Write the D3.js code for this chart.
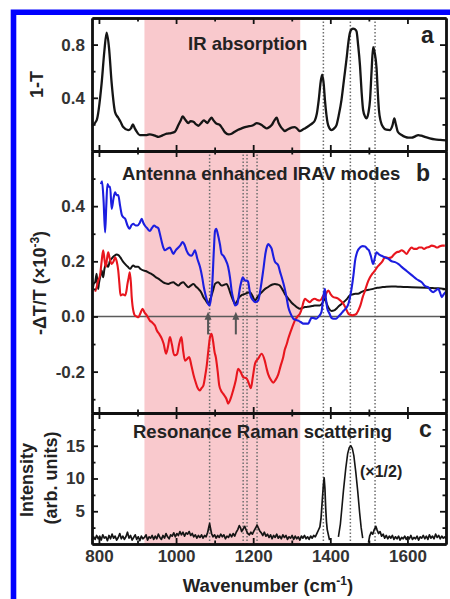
<!DOCTYPE html>
<html>
<head>
<meta charset="utf-8">
<script src="https://cdn.jsdelivr.net/npm/d3@7"></script>
<style>
  body { margin: 0; background: #fff; }
  text { font-family: "Liberation Sans", Arial, sans-serif; font-weight: bold; fill: #222; }
  .tick text { font-size: 17px; font-family: "Liberation Sans", Arial, sans-serif; font-weight: bold; fill: #333; }
  .tick line { stroke: #111; stroke-width: 1.8; }
  .domain { stroke: #111; stroke-width: 2.4; }
</style>
</head>
<body>
<script>
'use strict';

// ---- data (wavenumber in cm-1, value) ----
const pinkBand = [918, 1322];
const linesA = [1382, 1452, 1516];
const linesBC = [1087, 1174, 1184, 1210, 1382, 1452, 1516];
const arrowsB = [1083, 1155];

const xMajor = [800, 1000, 1200, 1400, 1600];
const xMinor = [900, 1100, 1300, 1500];
const yaMajor = [0.4, 0.8], yaMinor = [0.2, 0.6];
const ybMajor = [-0.2, 0, 0.2, 0.4], ybMinor = [-0.3, -0.1, 0.1, 0.3, 0.5];
const ycMajor = [5, 10, 15], ycMinor = [2.5, 7.5, 12.5, 17.5];

const irAbs = [[782,0.19],[794,0.23],[807,0.51],[814,0.75],[820,0.89],[826,0.78],[833,0.51],[842,0.29],[850,0.25],[856,0.22],[863,0.18],[876,0.157],[883,0.17],[888,0.2],[893,0.17],[898,0.145],[906,0.12],[915,0.12],[924,0.12],[932,0.125],[941,0.12],[948,0.112],[954,0.106],[965,0.118],[976,0.13],[987,0.135],[997,0.145],[1006,0.195],[1012,0.23],[1017,0.26],[1024,0.235],[1032,0.21],[1038,0.225],[1045,0.22],[1052,0.2],[1058,0.19],[1065,0.21],[1072,0.23],[1077,0.22],[1081,0.21],[1087,0.235],[1092,0.25],[1097,0.23],[1103,0.21],[1114,0.195],[1120,0.17],[1127,0.14],[1136,0.125],[1144,0.13],[1152,0.145],[1161,0.16],[1170,0.17],[1179,0.18],[1187,0.185],[1196,0.19],[1203,0.2],[1209,0.21],[1216,0.205],[1222,0.195],[1229,0.18],[1235,0.17],[1242,0.18],[1248,0.195],[1255,0.23],[1261,0.25],[1266,0.21],[1272,0.18],[1278,0.16],[1282,0.15],[1288,0.16],[1295,0.17],[1302,0.178],[1308,0.18],[1315,0.165],[1321,0.15],[1328,0.16],[1334,0.17],[1340,0.18],[1347,0.195],[1354,0.21],[1360,0.23],[1365,0.28],[1370,0.385],[1375,0.52],[1379,0.575],[1383,0.5],[1386,0.385],[1390,0.27],[1393,0.21],[1398,0.17],[1403,0.157],[1410,0.17],[1416,0.195],[1422,0.27],[1429,0.385],[1436,0.55],[1442,0.69],[1447,0.82],[1451,0.89],[1455,0.915],[1459,0.92],[1464,0.915],[1468,0.9],[1472,0.8],[1477,0.64],[1481,0.45],[1485,0.31],[1490,0.26],[1494,0.245],[1499,0.29],[1503,0.385],[1507,0.6],[1511,0.78],[1515,0.74],[1520,0.62],[1523,0.45],[1526,0.31],[1531,0.22],[1537,0.18],[1545,0.16],[1555,0.157],[1561,0.19],[1566,0.245],[1570,0.2],[1575,0.145],[1585,0.12],[1594,0.106],[1603,0.1],[1611,0.1],[1620,0.11],[1628,0.12],[1636,0.115],[1645,0.106],[1658,0.095],[1671,0.087],[1685,0.083],[1700,0.08]];

const blueB = [[805,0.48],[808,0.49],[812,0.42],[816,0.305],[819,0.4],[822,0.48],[826,0.47],[829,0.47],[833,0.39],[838,0.43],[842,0.45],[846,0.44],[850,0.44],[855,0.4],[859,0.37],[863,0.36],[868,0.354],[874,0.33],[879,0.318],[884,0.33],[889,0.336],[895,0.33],[900,0.33],[906,0.34],[911,0.354],[915,0.34],[919,0.33],[925,0.32],[932,0.31],[937,0.32],[943,0.33],[948,0.325],[954,0.32],[958,0.3],[963,0.27],[967,0.25],[971,0.24],[977,0.245],[984,0.25],[988,0.24],[993,0.227],[999,0.24],[1006,0.25],[1012,0.26],[1017,0.27],[1022,0.26],[1027,0.24],[1033,0.225],[1040,0.22],[1045,0.23],[1049,0.24],[1055,0.21],[1062,0.18],[1068,0.14],[1072,0.106],[1077,0.075],[1083,0.046],[1087,0.04],[1091,0.07],[1094,0.12],[1098,0.24],[1101,0.31],[1104,0.318],[1108,0.3],[1114,0.26],[1118,0.227],[1123,0.22],[1127,0.21],[1135,0.18],[1140,0.14],[1144,0.094],[1149,0.06],[1153,0.04],[1159,0.046],[1163,0.08],[1166,0.106],[1170,0.13],[1173,0.142],[1179,0.13],[1184,0.13],[1187,0.125],[1190,0.1],[1193,0.076],[1199,0.06],[1205,0.052],[1213,0.058],[1219,0.1],[1226,0.167],[1232,0.23],[1236,0.255],[1239,0.263],[1244,0.255],[1248,0.245],[1252,0.22],[1256,0.2],[1265,0.185],[1270,0.16],[1274,0.142],[1282,0.1],[1287,0.065],[1291,0.034],[1297,0.01],[1304,-0.008],[1310,-0.012],[1317,-0.015],[1323,-0.02],[1330,-0.026],[1337,-0.026],[1343,-0.026],[1347,-0.015],[1351,-0.005],[1357,-0.006],[1364,-0.008],[1370,0],[1377,0.016],[1381,0.06],[1384,0.09],[1386,0.1],[1389,0.06],[1392,0.03],[1398,0.01],[1403,-0.005],[1408,-0.008],[1415,-0.008],[1421,0.0],[1428,0.01],[1434,0.02],[1441,0.03],[1447,0.046],[1451,0.07],[1455,0.1],[1460,0.15],[1464,0.2],[1470,0.235],[1477,0.25],[1484,0.255],[1490,0.254],[1496,0.245],[1500,0.24],[1505,0.22],[1511,0.19],[1515,0.21],[1520,0.233],[1526,0.225],[1533,0.22],[1541,0.215],[1550,0.21],[1559,0.2],[1568,0.197],[1577,0.19],[1585,0.18],[1598,0.165],[1611,0.15],[1624,0.135],[1637,0.124],[1646,0.11],[1654,0.106],[1660,0.095],[1667,0.088],[1674,0.095],[1680,0.1],[1685,0.085],[1689,0.07],[1694,0.08],[1700,0.09]];

const redB = [[790,0.09],[794,0.106],[798,0.13],[803,0.15],[807,0.2],[811,0.24],[815,0.2],[818,0.18],[821,0.21],[824,0.233],[828,0.21],[833,0.19],[838,0.2],[842,0.215],[846,0.2],[850,0.167],[853,0.12],[856,0.076],[862,0.08],[868,0.076],[871,0.09],[874,0.118],[877,0.14],[880,0.16],[883,0.12],[885,0.07],[887,0.04],[890,0.015],[893,0.004],[898,0],[902,-0.003],[907,0.01],[913,0.028],[918,0.015],[924,0.004],[928,-0.005],[932,-0.015],[937,-0.02],[941,-0.026],[946,-0.035],[950,-0.05],[957,-0.065],[963,-0.08],[968,-0.1],[974,-0.135],[979,-0.11],[984,-0.075],[989,-0.1],[995,-0.14],[999,-0.14],[1003,-0.135],[1008,-0.1],[1014,-0.075],[1018,-0.12],[1023,-0.16],[1028,-0.155],[1034,-0.147],[1040,-0.18],[1045,-0.21],[1050,-0.235],[1055,-0.256],[1062,-0.268],[1066,-0.26],[1071,-0.25],[1075,-0.22],[1079,-0.184],[1084,-0.12],[1088,-0.075],[1092,-0.063],[1096,-0.09],[1100,-0.13],[1103,-0.147],[1108,-0.2],[1112,-0.25],[1117,-0.27],[1122,-0.28],[1127,-0.29],[1131,-0.3],[1135,-0.316],[1141,-0.3],[1148,-0.268],[1155,-0.23],[1161,-0.19],[1167,-0.2],[1174,-0.22],[1183,-0.225],[1188,-0.24],[1194,-0.26],[1199,-0.22],[1205,-0.17],[1213,-0.153],[1222,-0.135],[1230,-0.16],[1235,-0.19],[1239,-0.21],[1246,-0.23],[1252,-0.24],[1258,-0.23],[1265,-0.21],[1271,-0.18],[1278,-0.147],[1282,-0.12],[1287,-0.1],[1291,-0.08],[1295,-0.063],[1301,-0.04],[1308,-0.015],[1315,0],[1321,0.01],[1326,0.028],[1330,0.05],[1334,0.064],[1340,0.058],[1347,0.052],[1353,0.06],[1360,0.064],[1366,0.06],[1373,0.058],[1378,0.065],[1382,0.076],[1386,0.07],[1390,0.085],[1395,0.094],[1401,0.08],[1408,0.07],[1414,0.068],[1421,0.064],[1428,0.055],[1434,0.046],[1440,0.03],[1447,0.01],[1452,0.006],[1457,0.004],[1463,0.006],[1468,0.01],[1472,0.02],[1478,0.04],[1484,0.07],[1490,0.094],[1496,0.12],[1503,0.142],[1509,0.155],[1516,0.167],[1522,0.18],[1529,0.19],[1535,0.2],[1542,0.215],[1550,0.212],[1559,0.215],[1565,0.225],[1572,0.233],[1578,0.235],[1585,0.24],[1591,0.235],[1598,0.227],[1604,0.24],[1611,0.25],[1617,0.245],[1624,0.245],[1630,0.25],[1637,0.25],[1643,0.245],[1650,0.25],[1656,0.252],[1663,0.257],[1670,0.255],[1677,0.25],[1684,0.255],[1690,0.257],[1697,0.257]];

const blackB = [[784,0.1],[787,0.12],[790,0.124],[792,0.14],[794,0.155],[796,0.12],[798,0.1],[800,0.12],[803,0.142],[807,0.167],[811,0.142],[814,0.17],[818,0.19],[824,0.18],[828,0.2],[833,0.21],[840,0.22],[846,0.225],[851,0.222],[855,0.215],[862,0.2],[868,0.19],[875,0.18],[881,0.173],[885,0.18],[889,0.185],[895,0.18],[902,0.18],[908,0.172],[915,0.167],[921,0.165],[928,0.16],[935,0.155],[941,0.15],[948,0.142],[954,0.137],[961,0.13],[967,0.124],[973,0.12],[980,0.118],[986,0.122],[993,0.124],[999,0.118],[1006,0.112],[1012,0.12],[1019,0.124],[1025,0.115],[1032,0.106],[1038,0.112],[1045,0.118],[1052,0.108],[1058,0.1],[1065,0.088],[1071,0.07],[1077,0.058],[1083,0.046],[1088,0.06],[1092,0.076],[1097,0.1],[1101,0.118],[1109,0.124],[1118,0.112],[1125,0.115],[1131,0.118],[1136,0.105],[1140,0.088],[1146,0.065],[1153,0.046],[1158,0.055],[1164,0.07],[1171,0.078],[1179,0.082],[1185,0.086],[1192,0.088],[1198,0.075],[1205,0.058],[1211,0.07],[1218,0.082],[1225,0.092],[1231,0.1],[1238,0.106],[1244,0.112],[1250,0.116],[1256,0.118],[1263,0.116],[1269,0.112],[1275,0.1],[1282,0.082],[1288,0.07],[1295,0.058],[1301,0.048],[1308,0.04],[1314,0.033],[1321,0.028],[1328,0.031],[1334,0.034],[1341,0.035],[1347,0.036],[1354,0.038],[1360,0.04],[1367,0.04],[1373,0.04],[1380,0.05],[1386,0.064],[1391,0.045],[1396,0.03],[1403,0.02],[1410,0.022],[1417,0.03],[1424,0.04],[1430,0.046],[1437,0.055],[1444,0.065],[1450,0.076],[1458,0.08],[1465,0.082],[1472,0.082],[1480,0.088],[1490,0.094],[1500,0.097],[1511,0.1],[1522,0.104],[1533,0.106],[1545,0.108],[1559,0.109],[1575,0.108],[1590,0.107],[1611,0.106],[1630,0.105],[1650,0.104],[1665,0.103],[1680,0.102],[1697,0.1]];

const ramanLeft = [[782,0.6],[786,1.1],[790,0.7],[794,1.3],[798,0.8],[802,1.2],[806,0.6],[810,1.4],[814,0.9],[818,1.1],[822,0.5],[826,1.3],[830,0.8],[834,1.5],[838,0.9],[842,1.2],[846,0.6],[850,1.0],[854,1.6],[858,0.8],[862,1.2],[866,0.7],[870,1.1],[874,1.8],[878,0.9],[882,1.3],[886,0.6],[890,1.0],[894,1.4],[898,0.7],[902,1.1],[906,0.5],[910,1.2],[914,0.8],[918,1.0],[922,1.4],[926,0.6],[930,1.1],[934,0.9],[938,1.3],[942,0.7],[946,1.2],[950,0.8],[954,1.5],[958,1.0],[962,0.7],[966,1.3],[970,0.9],[974,1.6],[978,1.1],[982,0.8],[986,1.4],[990,1.2],[994,1.7],[998,1.1],[1002,1.6],[1006,1.3],[1010,1.9],[1014,1.4],[1018,1.8],[1022,1.2],[1026,1.7],[1030,1.5],[1034,1.9],[1038,1.3],[1042,1.6],[1046,1.1],[1050,1.4],[1054,0.9],[1058,1.3],[1062,1.0],[1066,1.4],[1070,0.9],[1074,1.3],[1078,1.1],[1082,1.8],[1085,2.6],[1087,3.1],[1089,2.5],[1092,1.6],[1096,1.1],[1100,1.4],[1104,0.9],[1108,1.3],[1112,1.0],[1116,1.5],[1120,1.1],[1124,1.4],[1128,0.8],[1132,1.2],[1136,1.0],[1140,1.5],[1144,1.1],[1148,1.6],[1152,1.2],[1156,1.8],[1160,2.2],[1164,2.8],[1167,2.5],[1170,1.9],[1174,2.3],[1178,2.7],[1182,2.1],[1186,1.6],[1190,1.4],[1194,1.8],[1198,1.5],[1202,2.0],[1206,2.4],[1210,2.9],[1213,2.5],[1217,2.0],[1221,1.7],[1225,1.3],[1229,1.8],[1233,1.2],[1237,1.5],[1241,1.0],[1245,1.4],[1249,0.8],[1253,1.3],[1257,1.0],[1261,1.5],[1265,0.9],[1269,1.2],[1273,0.8],[1277,1.4],[1281,1.0],[1285,1.3],[1289,0.7],[1293,1.1],[1297,0.9],[1301,1.3],[1305,0.7],[1309,1.2],[1313,0.8],[1317,1.1],[1321,0.6],[1325,1.2],[1329,0.9],[1333,1.3],[1337,0.8],[1341,1.1],[1345,0.7],[1349,1.2],[1353,0.9],[1357,1.3],[1361,1.1],[1365,1.6],[1369,2.1],[1373,2.6],[1376,4.0],[1379,6.5],[1382,9.0],[1384,10.1],[1386,8.5],[1388,5.5],[1390,3.4],[1392,2.2],[1395,1.4],[1398,0.6]];
const ramanHalf = [[1421,1.1],[1426,3.0],[1430,5.5],[1434,8.1],[1440,11.5],[1445,13.8],[1449,14.7],[1453,15.0],[1457,14.6],[1461,13.5],[1466,11.0],[1471,8.1],[1476,4.8],[1480,2.5],[1484,0.9]];
const ramanRight = [[1499,0.2],[1502,1.2],[1506,1.8],[1510,1.5],[1514,2.2],[1518,2.7],[1521,2.2],[1525,1.6],[1529,1.9],[1533,1.2],[1537,1.5],[1541,0.9],[1545,1.3],[1549,0.8],[1553,1.2],[1557,0.9],[1561,1.3],[1565,0.7],[1569,1.1],[1573,0.8],[1577,1.2],[1581,0.6],[1585,1.0],[1589,0.8],[1593,1.2],[1597,0.7],[1601,1.1],[1605,0.8],[1609,1.3],[1613,0.7],[1617,1.0],[1621,0.8],[1625,1.2],[1629,0.6],[1633,1.1],[1637,0.9],[1641,1.3],[1645,0.8],[1649,1.2],[1653,0.7],[1657,1.4],[1661,0.9],[1665,1.2],[1669,0.8],[1673,1.5],[1677,1.0],[1681,1.3],[1685,0.8],[1689,1.2],[1693,0.9],[1697,1.1],[1700,0.8]];

// ---- layout ----
const W = 450, H = 599;
const left = 92, right = 446;

const svg = d3.select("body").append("svg")
    .attr("width", W)
    .attr("height", H);

const x = d3.scaleLinear().domain([782, 1700]).range([left, right]);
const ya = d3.scaleLinear().domain([0, 1.0]).range([151, 18]);
const yb = d3.scaleLinear().domain([-0.35, 0.6]).range([413, 151]);
const yc = d3.scaleLinear().domain([0, 20]).range([544, 413]);

// blue frame
svg.append("path")
    .attr("d", "M13.5,599V12.2H450")
    .attr("fill", "none")
    .attr("stroke", "#0000ff")
    .attr("stroke-width", 5.6);

// pink band
svg.append("rect")
    .attr("x", x(pinkBand[0]))
    .attr("width", x(pinkBand[1]) - x(pinkBand[0]))
    .attr("y", ya.range()[1])
    .attr("height", yc.range()[0] - ya.range()[1])
    .attr("fill", "#f9c9cd");

// dotted guides
function guides(vals, y0, y1) {
    svg.append("g").selectAll("line")
        .data(vals)
        .enter().append("line")
        .attr("x1", d => x(d)).attr("x2", d => x(d))
        .attr("y1", y0).attr("y2", y1)
        .attr("stroke", "#6e6e6e")
        .attr("stroke-width", 1.5)
        .attr("stroke-dasharray", "1.5,2");
}
guides(linesA, ya.range()[1], ya.range()[0]);
guides(linesBC, yb.range()[1], yc.range()[0]);

// zero line in b
svg.append("line")
    .attr("x1", left).attr("x2", right)
    .attr("y1", yb(0)).attr("y2", yb(0))
    .attr("stroke", "#5a5a5a")
    .attr("stroke-width", 1.6);

function drawLine(data, y, color, w, curve) {
    svg.append("path")
        .datum(data)
        .attr("fill", "none")
        .attr("stroke", color)
        .attr("stroke-width", w)
        .attr("stroke-linejoin", "round")
        .attr("d", d3.line().x(d => x(d[0])).y(d => y(d[1])).curve(curve || d3.curveLinear));
}

drawLine(irAbs, ya, "#151515", 2.3, d3.curveMonotoneX);
drawLine(blackB, yb, "#151515", 2.0, d3.curveMonotoneX);
drawLine(redB, yb, "#e8161e", 2.1, d3.curveMonotoneX);
drawLine(blueB, yb, "#1c1ee0", 2.1, d3.curveMonotoneX);
drawLine(ramanLeft, yc, "#151515", 1.7);
drawLine(ramanHalf, yc, "#151515", 1.6);
drawLine(ramanRight, yc, "#151515", 1.7);

// arrows in b
const arr = svg.append("g").attr("fill", "#555").attr("stroke", "#555");
arrowsB.forEach(function(w) {
    const ax = x(w);
    arr.append("line")
        .attr("x1", ax).attr("x2", ax)
        .attr("y1", yb(-0.065)).attr("y2", yb(-0.005))
        .attr("stroke-width", 2);
    arr.append("path")
        .attr("stroke", "none")
        .attr("d", `M${ax},${yb(0.017)}L${ax - 3.5},${yb(-0.012)}L${ax + 3.5},${yb(-0.012)}Z`);
});

// axes
const fmt1 = d => d.toFixed(1);
function frame(y, yMaj, yMin, yFmt, xLabels) {
    const [yBot, yTop] = y.range();
    const g = svg.append("g");
    const put = (axis, tx, ty) => g.append("g").attr("transform", `translate(${tx},${ty})`).call(axis);

    put(d3.axisLeft(y).tickValues(yMin).tickSizeInner(-3.5).tickSizeOuter(0).tickFormat(""), left, 0);
    put(d3.axisLeft(y).tickValues(yMaj).tickSizeInner(-6).tickSizeOuter(0).tickPadding(7).tickFormat(yFmt), left, 0);
    put(d3.axisRight(y).tickValues(yMin).tickSizeInner(-3.5).tickSizeOuter(0).tickFormat(""), right, 0);
    put(d3.axisRight(y).tickValues(yMaj).tickSizeInner(-6).tickSizeOuter(0).tickFormat(""), right, 0);

    put(d3.axisTop(x).tickValues(xMinor).tickSizeInner(-3.5).tickSizeOuter(0).tickFormat(""), 0, yTop);
    put(d3.axisTop(x).tickValues(xMajor).tickSizeInner(-6).tickSizeOuter(0).tickFormat(""), 0, yTop);
    put(d3.axisBottom(x).tickValues(xMinor).tickSizeInner(-3.5).tickSizeOuter(0).tickFormat(""), 0, yBot);
    put(d3.axisBottom(x).tickValues(xMajor).tickSizeInner(-6).tickSizeOuter(0).tickPadding(6)
        .tickFormat(xLabels ? d3.format("d") : ""), 0, yBot);
}
frame(ya, yaMajor, yaMinor, fmt1, false);
frame(yb, ybMajor, ybMinor, fmt1, false);
frame(yc, ycMajor, ycMinor, d3.format("d"), true);

// titles
function label(txt, tx, ty, size, anchor) {
    return svg.append("text")
        .attr("x", tx).attr("y", ty)
        .attr("font-size", size)
        .attr("text-anchor", anchor || "start")
        .text(txt);
}
label("IR absorption", 188, 49.5, 18.5);
label("Antenna enhanced IRAV modes", 122, 179.5, 18.5);
label("Resonance Raman scattering", 133, 437.5, 18.5);
label("a", 421, 42.7, 23);
label("b", 416, 180.7, 23);
label("c", 419, 436.7, 23);
label("(\u00d71/2)", 360, 476.5, 16);

// axis titles
label("1-T", 0, 0, 18, "middle").attr("transform", "translate(43,84.5) rotate(-90)");
const yt = label("", 0, 0, 18, "middle").attr("transform", "translate(46,283) rotate(-90)");
yt.append("tspan").text("-\u0394T/T (\u00d710");
yt.append("tspan").attr("dy", -7).attr("font-size", 12).text("-3");
yt.append("tspan").attr("dy", 7).text(")");
label("Intensity", 0, 0, 18, "middle").attr("transform", "translate(33,480) rotate(-90)");
label("(arb. units)", 0, 0, 18, "middle").attr("transform", "translate(57,478) rotate(-90)");

const xt = label("", 268, 592, 18.5, "middle");
xt.append("tspan").text("Wavenumber (cm");
xt.append("tspan").attr("dy", -7).attr("font-size", 12).text("-1");
xt.append("tspan").attr("dy", 7).text(")");
</script>
</body>
</html>
